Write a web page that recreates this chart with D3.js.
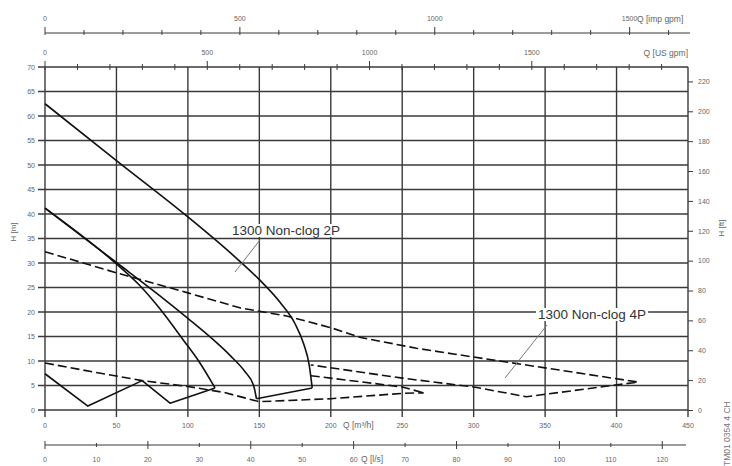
<!DOCTYPE html>
<html><head><meta charset="utf-8">
<script src="https://cdn.jsdelivr.net/npm/d3@7"></script>
<style>body{margin:0;background:#fff}svg{display:block}text{font-family:"Liberation Sans",Arial,sans-serif}</style>
</head><body>
<svg id="c" width="732" height="466"></svg>
<script>
// ---- data (Q in m3/h, H in m) ----
const hTicks = [0,5,10,15,20,25,30,35,40,45,50,55,60,65,70];
const qTicks = [0,50,100,150,200,250,300,350,400,450];
const ftTicks = [0,20,40,60,80,100,120,140,160,180,200,220];
const usTicksMajor = [0,500,1000,1500];
const impTicksMajor = [0,500,1000,1500];
const lsTicks = [0,10,20,30,40,50,60,70,80,90,100,110,120];

// 2P solid curves
const big2P_Q = [0,50,100,130,150,165,175,181,185,187];
const big2P_H = [62.5,50.9,39.4,32,26.6,21.8,17.6,13.5,9,4.5];
const bottom2P_Q = [187,148];
const bottom2P_H = [4.5,2.3];
const mid2P_Q = [0,50,80,100,116,130,140,146,148];
const mid2P_H = [41.2,30.1,23.4,18.7,14.8,11,7.8,5,2.3];
const small2P_Q = [0,50,66,80,97,108,119];
const small2P_H = [41.2,29.8,25.5,20.8,14.2,9.8,4.5];
const zig2P_Q = [119,87.5,68,30,0];
const zig2P_H = [4.5,1.4,6,0.8,7.4];

// 4P dashed curves
const big4P_Q = [0,50,100,137,169,200,221,260,300,350,415,337,300,250,186];
const big4P_H = [32.3,28,23.9,20.8,19.2,16.8,14.8,12.6,10.8,8.6,5.7,2.7,4.7,6.5,9.2];
const mid4P_Q = [186,250,265];
const mid4P_H = [7.0,4.7,3.5];
const small4P_Q = [0,35,68,100,125,150,200,250,265];
const small4P_H = [9.6,7.7,6,4.8,3.6,1.7,2.3,3.4,3.5];

const label2P = "1300 Non-clog 2P";
const label4P = "1300 Non-clog 4P";

// ---- scales ----
const svg = d3.select("#c");
const x = d3.scaleLinear().domain([0,450]).range([45,688]);
const y = d3.scaleLinear().domain([0,70]).range([410,67]);
const yFt = d3.scaleLinear().domain([0,70/0.3048]).range([410,67]);
const xUS = d3.scaleLinear().domain([0,450*4.40287]).range([45,688]);
const xImp = d3.scaleLinear().domain([0,450*3.66615]).range([45,688]);
const xLs = d3.scaleLinear().domain([0,125]).range([45,688]);

const gridCol = "#3a3a3a", txtCol = "#666";

// grid
svg.append("g").selectAll("line").data(hTicks).join("line")
  .attr("x1",38).attr("x2",688).attr("y1",d=>y(d)).attr("y2",d=>y(d))
  .attr("stroke",gridCol).attr("stroke-width",1.4);
svg.append("g").selectAll("line").data(qTicks).join("line")
  .attr("x1",d=>x(d)).attr("x2",d=>x(d)).attr("y1",y(70)).attr("y2",417)
  .attr("stroke",gridCol).attr("stroke-width",1.4);

// left labels
svg.append("g").selectAll("text").data(hTicks).join("text")
  .attr("x",35).attr("y",d=>y(d)+2.5).attr("text-anchor","end")
  .attr("font-size",7).attr("fill",txtCol).text(d=>d);
svg.append("text").attr("transform","translate(16,232) rotate(-90)")
  .attr("text-anchor","middle").attr("font-size",8).attr("fill",txtCol).text("H [m]");

// right axis (ft)
const gR = svg.append("g").attr("transform","translate(688,0)");
gR.call(d3.axisRight(yFt).tickValues(ftTicks).tickSize(5).tickPadding(5).tickFormat(d=>d));
gR.select(".domain").remove();
gR.selectAll("line").attr("stroke",gridCol);
gR.selectAll("text").attr("font-size",7).attr("fill",txtCol).attr("font-family","Liberation Sans");
svg.append("text").attr("transform","translate(724,228) rotate(-90)")
  .attr("text-anchor","middle").attr("font-size",8).attr("fill",txtCol).text("H [ft]");

// bottom m3/h labels
svg.append("g").selectAll("text").data(qTicks).join("text")
  .attr("x",d=>x(d)).attr("y",428).attr("text-anchor","middle")
  .attr("font-size",7).attr("fill",txtCol).text(d=>d);
svg.append("text").attr("x",343).attr("y",428).attr("font-size",8.5).attr("fill",txtCol)
  .text("Q [m³/h]");

// l/s axis
const gLs = svg.append("g").attr("transform","translate(0,445)");
gLs.append("line").attr("x1",45).attr("x2",686).attr("stroke",gridCol).attr("stroke-width",1.2);
gLs.selectAll("line.t").data(lsTicks).join("line").attr("class","t")
  .attr("x1",d=>xLs(d)).attr("x2",d=>xLs(d)).attr("y1",d=>d%20===0?-4:-2).attr("y2",d=>d%20===0?4:2)
  .attr("stroke",gridCol);
gLs.selectAll("text").data(lsTicks).join("text")
  .attr("x",d=>xLs(d)).attr("y",17).attr("text-anchor","middle")
  .attr("font-size",7).attr("fill",txtCol).text(d=>d);
svg.append("text").attr("x",361).attr("y",462).attr("font-size",8.5).attr("fill",txtCol).text("Q [l/s]");

// top US gpm axis (on plot top)
const usMinor = d3.range(0,2000,100);
svg.append("g").selectAll("line").data(usMinor).join("line")
  .attr("x1",d=>xUS(d)).attr("x2",d=>xUS(d))
  .attr("y1",d=>d%500===0?61:64).attr("y2",70).attr("stroke",gridCol);
svg.append("g").selectAll("text").data(usTicksMajor).join("text")
  .attr("x",d=>xUS(d)).attr("y",55).attr("text-anchor","middle")
  .attr("font-size",7).attr("fill",txtCol).text(d=>d);
svg.append("text").attr("x",688).attr("y",56).attr("text-anchor","end")
  .attr("font-size",8.5).attr("fill",txtCol).text("Q [US gpm]");

// top imp gpm axis
svg.append("line").attr("x1",45).attr("x2",690).attr("y1",33).attr("y2",33)
  .attr("stroke",gridCol).attr("stroke-width",1.2);
const impMinor = d3.range(0,1700,100);
svg.append("g").selectAll("line").data(impMinor).join("line")
  .attr("x1",d=>xImp(d)).attr("x2",d=>xImp(d))
  .attr("y1",d=>d%500===0?27:30).attr("y2",35).attr("stroke",gridCol);
svg.append("g").selectAll("text").data(impTicksMajor).join("text")
  .attr("x",d=>xImp(d)).attr("y",21).attr("text-anchor","middle")
  .attr("font-size",7).attr("fill",txtCol).text(d=>d);
svg.append("text").attr("x",637).attr("y",22).attr("font-size",8.5).attr("fill",txtCol)
  .text("Q [imp gpm]");

// code text bottom-right
svg.append("text").attr("transform","translate(730,466) rotate(-90)")
  .attr("font-size",8.5).attr("fill","#777").text("TM01 0354 4 CH");

// curves
const zip = (q,h)=>q.map((v,i)=>[v,h[i]]);
const smooth = d3.line().x(d=>x(d[0])).y(d=>y(d[1])).curve(d3.curveMonotoneX);
const lin = d3.line().x(d=>x(d[0])).y(d=>y(d[1]));
const gc = svg.append("g").attr("fill","none").attr("stroke","#111").attr("stroke-width",1.6)
  .attr("stroke-linejoin","round");
gc.append("path").attr("d",smooth(zip(big2P_Q,big2P_H)));
gc.append("path").attr("d",lin(zip(bottom2P_Q,bottom2P_H)));
gc.append("path").attr("d",smooth(zip(mid2P_Q,mid2P_H)));
gc.append("path").attr("d",smooth(zip(small2P_Q,small2P_H)));
gc.append("path").attr("d",lin(zip(zig2P_Q,zig2P_H)));
const gd = svg.append("g").attr("fill","none").attr("stroke","#111").attr("stroke-width",1.6)
  .attr("stroke-dasharray","9,4");
gd.append("path").attr("d",lin(zip(big4P_Q,big4P_H)));
gd.append("path").attr("d",lin(zip(mid4P_Q,mid4P_H)));
gd.append("path").attr("d",lin(zip(small4P_Q,small4P_H)));

// labels with leaders
const gl = svg.append("g");
function label(txt, lx, ly, ax, ay, bx, by){
  gl.append("line").attr("x1",ax).attr("y1",ay).attr("x2",bx).attr("y2",by)
    .attr("stroke","#777").attr("stroke-width",1);
  const r = gl.append("rect").attr("fill","#fff");
  const t = gl.append("text").attr("x",lx).attr("y",ly).attr("font-size",13.5)
    .attr("fill","#333").text(txt);
  const bb = t.node().getBBox();
  r.attr("x",bb.x-2).attr("y",bb.y+1).attr("width",bb.width+4).attr("height",bb.height-2);
}
label(label2P, 232, 235, 260, 240, 235, 272);
label(label4P, 538, 319, 547, 325, 505, 378);
</script>
</body></html>
